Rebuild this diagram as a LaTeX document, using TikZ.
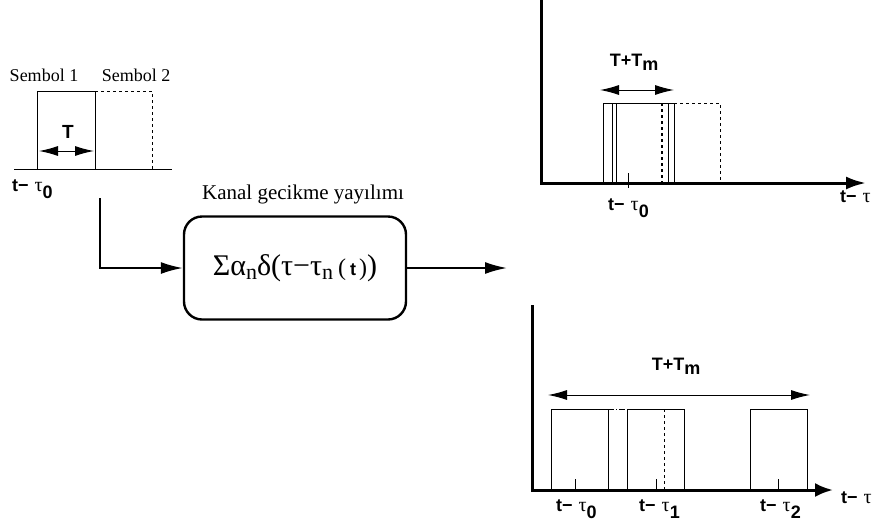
\documentclass[tikz,border=0pt]{standalone}
\usepackage{fontspec}
\setmainfont{Liberation Serif}
\setsansfont{Liberation Sans}
\usetikzlibrary{arrows.meta}
\newcommand\tlab[1]{t−\hspace{6pt}{\rmfamily\mdseries\fs{20}τ}\raisebox{-7pt}{#1}}
\newcommand\fs[1]{\fontsize{#1}{#1}\selectfont}
\begin{document}
\begin{tikzpicture}[x=1pt,y=-1pt,
  thin/.style={line width=1pt},
  axisline/.style={line width=3pt,-{Latex[length=20pt,width=13pt]}},
  wire/.style={line width=1.9pt,-{Latex[length=22pt,width=12pt]}},
  dbl/.style={line width=1pt,{Latex[length=19pt,width=10pt]}-{Latex[length=19pt,width=10pt]}},
  lbl/.style={inner sep=0pt,font=\fs{18}\sffamily\bfseries},
  serlbl/.style={inner sep=0pt,font=\fs{18}}]
\useasboundingbox (0,0) rectangle (878,531);

% left symbol
\coordinate (b0) at (14,169); \coordinate (b1) at (172,169);
\draw[thin] (b0) -- (b1);
\draw[thin] (37,169) -- (37,91) -- (95,91) -- (95,169);
\draw[thin,dashed] (95,91) -- (152,91) -- (152,169);
\node[serlbl] (s1) at (44,75) {Sembol 1};
\node[serlbl] (s2) at (136,75) {Sembol 2};
\node[lbl,font=\fs{19}\sffamily\bfseries] (T) at (68,132) {T};
\coordinate (ta) at (39,151); \coordinate (tb) at (94,151);
\draw[dbl] (ta) -- (tb);
\node[lbl,anchor=west] (t0a) at (12,189) {\tlab{0}};

% channel
\node[draw,line width=2.4pt,rounded corners=18pt,minimum width=222pt,minimum height=103pt,font=\fs{30}] (box) at (295,268)
  {Σα\raisebox{-0.3ex}{\fs{22}n}δ(τ−τ\raisebox{-0.3ex}{\fs{22}n}\,{\fs{24}(\,\sffamily\bfseries\fs{18}t\,\rmfamily\mdseries\fs{24})})};
\node[serlbl,font=\fs{21}] (kanal) at (303,194) {Kanal gecikme yayılımı};
\coordinate (w0) at (100,198);
\draw[wire] (w0) |- (box.west);
\coordinate (out) at (507,270);
\draw[wire] (box.east) -- (box.east -| out);

% top graph
\coordinate (ya) at (541,0); \coordinate (o1) at (541,183); \coordinate (xa) at (866,183);
\draw[axisline] (ya) -- (o1) -- (xa);
\draw[thin] (603,183) -- (603,103) -- (674,103) -- (674,183);
\draw[thin] (612,103) -- (612,183);
\draw[thin] (616,103) -- (616,183);
\draw[line width=1.3pt,dashed] (662,103) -- (662,183);
\draw[thin] (668,103) -- (668,183);
\draw[thin,dashed] (674,103) -- (720,103) -- (720,183);
\draw[thin] (628,173) -- (628,188);
\coordinate (ua) at (600,90); \coordinate (ub) at (674,90);
\draw[dbl] (ua) -- (ub);
\node[lbl] (tm1) at (634,62) {T+T\raisebox{-4pt}{m}};
\node[lbl,anchor=west] (tt0) at (608,208) {\tlab{0}};
\node[lbl,anchor=west] (xt1) at (840,200) {\tlab{}};

% bottom graph
\coordinate (yb) at (532,305); \coordinate (o2) at (532,490); \coordinate (xb) at (833,490);
\draw[axisline,-{Latex[length=18pt,width=14pt]}] (yb) -- (o2) -- (xb);
\draw[thin] (551,490) -- (551,409) -- (608,409) -- (608,490);
\draw[thin,dash pattern=on 6pt off 2pt on 1pt off 2pt] (608,409) -- (627,409);
\draw[thin] (627,490) -- (627,409) -- (684,409) -- (684,490);
\draw[thin,dashed] (664,409) -- (664,490);
\draw[thin] (750,490) -- (750,409) -- (807,409) -- (807,490);
\foreach \x in {575,656,778} \draw[thin] (\x,479) -- (\x,492);
\coordinate (va) at (548,395); \coordinate (vb) at (810,395);
\draw[dbl] (va) -- (vb);
\node[lbl] (tm2) at (676,366) {T+T\raisebox{-4pt}{m}};
\node[lbl,anchor=west] (bt0) at (556,509) {\tlab{0}};
\node[lbl,anchor=west] (bt1) at (639,509) {\tlab{1}};
\node[lbl,anchor=west] (bt2) at (760,509) {\tlab{2}};
\node[lbl,anchor=west] (xt2) at (841,501) {\tlab{}};
\end{tikzpicture}
\end{document}
